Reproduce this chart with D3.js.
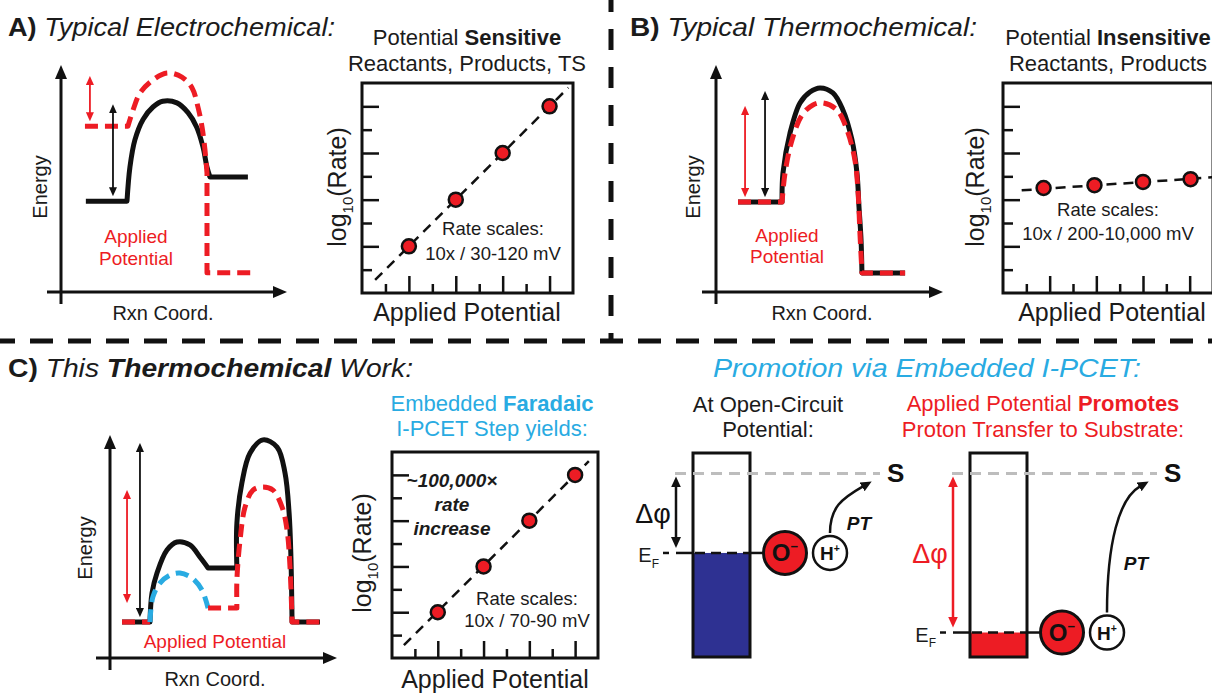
<!DOCTYPE html>
<html>
<head>
<meta charset="utf-8">
<script src="https://cdn.jsdelivr.net/npm/d3@7"></script>
<style>
  body { margin: 0; background: #fff; }
  svg { display: block; font-family: "Liberation Sans", Arial, sans-serif; }
</style>
</head>
<body>
<div id="fig"></div>
<script>
// colours
const INK = "#111", TXT = "#1b1b1b", RED = "#ED1C24", CYAN = "#29ABE2", NAVY = "#2E3192", GREY = "#BDBDBD";

// ---- rate plots: [applied potential, log10(rate)] in tick units ----
const rateTicks = [1, 2, 3, 4];
const rateMinorTicks = [0.5, 1.5, 2.5, 3.5];
const ratePointsA = [[1, 1], [2, 2], [3, 3], [4, 4]];
const rateFitA = [[0.28, 0.28], [4.4, 4.4]];
const ratePointsB = [[0.87, 2.25], [1.96, 2.31], [3.0, 2.38], [4.02, 2.44]];
const rateFitB = [[0.4, 2.2], [4.5, 2.48]];
const ratePointsC = [[1, 1], [2, 2], [3, 3], [4, 4]];
const rateFitC = [[0.26, 0.28], [4.3, 4.3]];

// ---- energy profiles [rxn coord, energy], 0..100 on each axis ----
// each piece: 2 points = straight segment, more = smooth barrier
const energyBlackA = [
  [[11, 40], [29.2, 40]],
  [[29.2, 40], [30.5, 55], [32.7, 67], [36.3, 76], [40.7, 81.5], [45, 84], [51.3, 83.3], [56.2, 79], [60, 72.7], [62.8, 64], [64.6, 55], [65.9, 50.7]],
  [[65.9, 50.7], [82.7, 50.7]]
];
const energyRedA = [
  [[10.6, 73], [29.6, 73]],
  [[29.6, 73], [31.9, 80.2], [35, 87.7], [40.7, 93.4], [46.9, 96.5], [53.5, 94.7], [58, 89.9], [60.6, 81.5], [62.4, 72.7], [63.7, 62.6], [64.6, 52.4]],
  [[64.6, 52.4], [64.6, 8.5]],
  [[64.6, 8.5], [85, 8.5]]
];
const energyBlackB = [
  [[9.7, 39.6], [29.1, 39.6]],
  [[29.1, 39.6], [29.5, 52.4], [32.6, 70], [37, 83.3], [41.4, 88.1], [45.8, 89.9], [51.5, 87.7], [55.9, 80.2], [59.9, 67], [62.1, 52.4], [63, 37.4], [63.9, 22.9], [64.3, 8.4]],
  [[64.3, 8.4], [83.3, 8.4]]
];
const energyRedB = [
  [[9.7, 39.6], [29.1, 39.6]],
  [[29.1, 39.6], [30.4, 52.4], [33.5, 67], [37.9, 78], [42.7, 82.4], [47.1, 83.3], [53.3, 80.2], [57.7, 71.4], [61.2, 58.1], [62.6, 43.6], [63.4, 26], [64.3, 8.4]],
  [[64.3, 8.4], [83.3, 8.4]]
];
const energyBlackC = [
  [[5.3, 16.1], [17.6, 16.1]],
  [[17.6, 16.1], [18.5, 29.1], [20.7, 38.1], [25.1, 48.4], [29.5, 52], [35.2, 50.7], [39.6, 45.3], [43.2, 40.4]],
  [[43.2, 40.4], [55.9, 40.4]],
  [[55.9, 40.4], [55.9, 60.5], [58.1, 78.5], [61.7, 91.9], [67.4, 97.8], [73.6, 94.6], [77.1, 83], [78.9, 65], [79.7, 45.3], [80.2, 16.1]],
  [[80.2, 16.1], [92.5, 16.1]]
];
const energyRedStartC = [
  [[5.3, 16.1], [17.6, 16.1]]
];
const energyBlueC = [
  [[17.6, 16.1], [18.9, 27.4], [22, 33.6], [26.4, 37.2], [30.8, 38.1], [36.1, 35.9], [40.5, 30.5], [43.2, 22.4]]
];
const energyRedC = [
  [[43.2, 22.4], [55.9, 22.4]],
  [[55.9, 22.4], [55.9, 35], [57.3, 52.9], [59.5, 67.7], [63, 75.3], [67.4, 76.7], [71.8, 75.3], [75.8, 67.7], [78, 57.4], [79.3, 40.8], [80.2, 16.1]],
  [[80.2, 16.1], [92.5, 16.1]]
];

// ---- band diagrams: levels in box height units (0 bottom .. 100 top) ----
const substrateLevel = 90;
const fermiLevels = [51, 12]; // open circuit, applied potential

const W = 1212, H = 694;
const svg = d3.select("#fig").append("svg").attr("width", W).attr("height", H);
const defs = svg.append("defs");

function marker(id, color, len, wid) {
  defs.append("marker").attr("id", id)
    .attr("viewBox", `0 0 ${len} ${wid}`)
    .attr("markerUnits", "userSpaceOnUse")
    .attr("markerWidth", len).attr("markerHeight", wid)
    .attr("refX", 1).attr("refY", wid / 2)
    .attr("orient", "auto-start-reverse")
    .append("path").attr("d", `M0,0L${len},${wid / 2}L0,${wid}Z`).attr("fill", color);
}
marker("axisHead", INK, 14, 12);
marker("headK", INK, 9, 8);
marker("headR", RED, 9, 8);
marker("headK2", INK, 11, 10);
marker("headR2", RED, 11, 10);
const headLen = { axisHead: 14, headK: 9, headR: 9, headK2: 11, headR2: 11 };

// line whose arrow tips land on the given points
function arrow(x1, y1, x2, y2, id, color, w, both) {
  const dx = x2 - x1, dy = y2 - y1, L = Math.hypot(dx, dy);
  const ux = dx / L, uy = dy / L, s = headLen[id] - 1;
  svg.append("line")
    .attr("x1", both ? x1 + ux * s : x1).attr("y1", both ? y1 + uy * s : y1)
    .attr("x2", x2 - ux * s).attr("y2", y2 - uy * s)
    .attr("stroke", color).attr("stroke-width", w)
    .attr("marker-end", `url(#${id})`)
    .attr("marker-start", both ? `url(#${id})` : null);
}

// text with mixed bold / italic / sub / sup parts
function label(x, y, parts, o = {}) {
  const size = o.size || 20;
  const t = svg.append("text")
    .attr("font-size", size)
    .attr("text-anchor", o.anchor || "middle")
    .attr("fill", o.fill || TXT);
  if (o.rotate) t.attr("transform", `translate(${x},${y}) rotate(${o.rotate})`);
  else t.attr("x", x).attr("y", y);
  if (o.len) t.attr("textLength", o.len).attr("lengthAdjust", "spacingAndGlyphs");
  let shift = 0;
  (typeof parts === "string" ? [[parts, o.style || ""]] : parts).forEach(([s, f = ""]) => {
    const fl = f.split(" ");
    const sp = t.append("tspan").text(s);
    if (fl.includes("b")) sp.attr("font-weight", "bold");
    if (fl.includes("i")) sp.attr("font-style", "italic");
    let want = 0;
    if (fl.includes("sub")) { sp.attr("font-size", size * 0.6); want = size * 0.28; }
    if (fl.includes("sup")) { sp.attr("font-size", size * 0.55); want = -size * 0.42; }
    if (want !== shift) { sp.attr("dy", want - shift); shift = want; }
  });
  return t;
}

const straight = d3.line();
const smooth = d3.line().curve(d3.curveCatmullRom.alpha(0.5));
function profilePath(pieces, x, y) {
  return pieces.map((piece, i) => {
    const pts = piece.map(d => [x(d[0]), y(d[1])]);
    const s = (pts.length > 2 ? smooth : straight)(pts);
    return i ? "L" + s.slice(1) : s;
  }).join("");
}

const lineStyles = {
  black: { stroke: INK, dash: null },
  red: { stroke: RED, dash: "13,7" },
  blue: { stroke: CYAN, dash: "13,7" }
};

function energyPanel(p, curves, barriers) {
  const x = d3.scaleLinear().domain([0, 100]).range([p.ox, p.ox + p.w]);
  const y = d3.scaleLinear().domain([0, 100]).range([p.oy, p.oy - p.h]);
  arrow(p.ox, p.oy + 12, p.ox, p.oy - p.h, "axisHead", INK, 3);
  arrow(p.ox - 14, p.oy, p.ox + p.w, p.oy, "axisHead", INK, 3);
  curves.forEach(([data, kind]) => {
    const st = lineStyles[kind];
    svg.append("path")
      .attr("d", profilePath(data, x, y))
      .attr("fill", "none")
      .attr("stroke", st.stroke)
      .attr("stroke-width", 5)
      .attr("stroke-linejoin", "round")
      .attr("stroke-dasharray", st.dash);
  });
  // barrier height arrows: from starting level up to the highest point
  barriers.forEach(([data, at, kind]) => {
    const start = data[0][0][1];
    const peak = d3.max(data.flat(), d => d[1]);
    arrow(x(at), y(start) - 5, x(at), y(peak) + 3,
      kind === "red" ? "headR" : "headK", kind === "red" ? RED : INK, 1.8, true);
  });
}

function ratePlot(box, pts, fit) {
  const x = d3.scaleLinear().domain([0, 4.5]).range([box.l, box.r]);
  const y = d3.scaleLinear().domain([0, 4.5]).range([box.b, box.t]);
  const g = svg.append("g");
  g.append("g").attr("transform", `translate(${box.l},0)`)
    .call(d3.axisLeft(y).tickValues(rateTicks).tickSize(-17).tickSizeOuter(0).tickFormat(""));
  g.append("g").attr("transform", `translate(${box.l},0)`)
    .call(d3.axisLeft(y).tickValues(rateMinorTicks).tickSize(-10).tickSizeOuter(0).tickFormat(""));
  g.append("g").attr("transform", `translate(0,${box.b})`)
    .call(d3.axisBottom(x).tickValues(rateTicks).tickSize(-17).tickSizeOuter(0).tickFormat(""));
  g.append("g").attr("transform", `translate(0,${box.b})`)
    .call(d3.axisBottom(x).tickValues(rateMinorTicks).tickSize(-9).tickSizeOuter(0).tickFormat(""));
  g.selectAll(".domain").remove();
  g.selectAll(".tick line").attr("stroke", INK).attr("stroke-width", 2.5);
  g.append("rect")
    .attr("x", box.l).attr("y", box.t)
    .attr("width", box.r - box.l).attr("height", box.b - box.t)
    .attr("fill", "none").attr("stroke", INK).attr("stroke-width", 3);
  g.append("path")
    .attr("d", d3.line().x(d => x(d[0])).y(d => y(d[1]))(fit))
    .attr("fill", "none").attr("stroke", INK)
    .attr("stroke-width", 2.5).attr("stroke-dasharray", "10,7");
  g.selectAll("circle.pt").data(pts).join("circle")
    .attr("class", "pt")
    .attr("cx", d => x(d[0])).attr("cy", d => y(d[1]))
    .attr("r", 7)
    .attr("fill", RED).attr("stroke", INK).attr("stroke-width", 2.5);
}

// ---------------- dividers ----------------
svg.append("line").attr("x1", 611).attr("x2", 611).attr("y1", 0).attr("y2", 342)
  .attr("stroke", INK).attr("stroke-width", 5)
  .attr("stroke-dasharray", "21,17").attr("stroke-dashoffset", 9);
svg.append("line").attr("x1", 0).attr("x2", W).attr("y1", 341).attr("y2", 341)
  .attr("stroke", INK).attr("stroke-width", 5)
  .attr("stroke-dasharray", "23,15").attr("stroke-dashoffset", 8);

// ---------------- panel A ----------------
label(8, 36, [["A) ", "b"], ["Typical Electrochemical:", "i"]], { size: 26, anchor: "start", len: 327 });
energyPanel({ ox: 61, oy: 292, w: 226, h: 227 },
  [[energyBlackA, "black"], [energyRedA, "red"]],
  [[energyRedA, 12.8, "red"], [energyBlackA, 23, "black"]]);
label(47, 187, "Energy", { size: 20, rotate: -90 });
label(163, 320, "Rxn Coord.", { size: 20 });
label(136, 243, "Applied", { size: 19, fill: RED });
label(136, 265, "Potential", { size: 19, fill: RED });

ratePlot({ l: 362, r: 573, t: 83, b: 293 }, ratePointsA, rateFitA);
label(467, 45, [["Potential "], ["Sensitive", "b"]], { size: 22 });
label(467, 71, "Reactants, Products, TS", { size: 22 });
label(346, 187, [["log"], ["10", "sub"], ["(Rate)"]], { size: 25, rotate: -90 });
label(467, 321, "Applied Potential", { size: 25 });
label(493, 235, "Rate scales:", { size: 18.5 });
label(493, 260, "10x / 30-120 mV", { size: 18.5 });

// ---------------- panel B ----------------
label(630, 36, [["B) ", "b"], ["Typical Thermochemical:", "i"]], { size: 26, anchor: "start", len: 347 });
energyPanel({ ox: 716, oy: 292, w: 227, h: 227 },
  [[energyBlackB, "black"], [energyRedB, "red"]],
  [[energyRedB, 12.8, "red"], [energyBlackB, 21.6, "black"]]);
label(700, 187, "Energy", { size: 20, rotate: -90 });
label(822, 320, "Rxn Coord.", { size: 20 });
label(787, 242, "Applied", { size: 19, fill: RED });
label(787, 263, "Potential", { size: 19, fill: RED });

ratePlot({ l: 1003, r: 1213, t: 83, b: 293 }, ratePointsB, rateFitB);
label(1108, 45, [["Potential "], ["Insensitive", "b"]], { size: 22 });
label(1108, 71, "Reactants, Products", { size: 22 });
label(984, 187, [["log"], ["10", "sub"], ["(Rate)"]], { size: 25, rotate: -90 });
label(1112, 321, "Applied Potential", { size: 25 });
label(1108, 216, "Rate scales:", { size: 18.5 });
label(1108, 240, "10x / 200-10,000 mV", { size: 18.5 });

// ---------------- panel C ----------------
label(8, 377, [["C) ", "b"], ["This ", "i"], ["Thermochemical", "b i"], [" Work:", "i"]], { size: 26, anchor: "start", len: 405 });
energyPanel({ ox: 110, oy: 658, w: 227, h: 223 },
  [[energyBlackC, "black"], [energyRedStartC, "red"], [energyBlueC, "blue"], [energyRedC, "red"]],
  [[energyRedC, 7.5, "red"], [energyBlackC, 13.2, "black"]]);
label(92, 548, "Energy", { size: 20, rotate: -90 });
label(215, 686, "Rxn Coord.", { size: 20 });
label(215, 648, "Applied Potential", { size: 19, fill: RED });

ratePlot({ l: 392, r: 598, t: 452, b: 658 }, ratePointsC, rateFitC);
label(492, 411, [["Embedded "], ["Faradaic", "b"]], { size: 22, fill: CYAN });
label(492, 436, "I-PCET Step yields:", { size: 22, fill: CYAN });
label(371, 553, [["log"], ["10", "sub"], ["(Rate)"]], { size: 25, rotate: -90 });
label(495, 688, "Applied Potential", { size: 25 });
label(452, 487, "~100,000\u00d7", { size: 19, style: "b i" });
label(452, 511, "rate", { size: 19, style: "b i" });
label(452, 535, "increase", { size: 19, style: "b i" });
label(527, 605, "Rate scales:", { size: 18.5 });
label(527, 627, "10x / 70-90 mV", { size: 18.5 });

// ---------------- band diagrams ----------------
label(713, 377, "Promotion via Embedded I-PCET:", { size: 26, anchor: "start", fill: CYAN, style: "i", len: 428 });
label(768, 412, "At Open-Circuit", { size: 22 });
label(768, 437, "Potential:", { size: 22 });
label(1043, 411, [["Applied Potential "], ["Promotes", "b"]], { size: 22, fill: RED });
label(1043, 437, "Proton Transfer to Substrate:", { size: 22, fill: RED });

const bandY = d3.scaleLinear().domain([0, 100]).range([657, 453]);
const bandPanels = [
  { bx: 693, fill: NAVY, dphi: INK, head: "headK2" },
  { bx: 970, fill: RED, dphi: RED, head: "headR2" }
];
const boxW = 57;
bandPanels.forEach((b, i) => {
  const ef = bandY(fermiLevels[i]), s = bandY(substrateLevel);
  const top = bandY(100), bot = bandY(0);
  svg.append("rect").attr("x", b.bx).attr("y", ef).attr("width", boxW).attr("height", bot - ef).attr("fill", b.fill);
  svg.append("rect").attr("x", b.bx).attr("y", top).attr("width", boxW).attr("height", bot - top)
    .attr("fill", "none").attr("stroke", INK).attr("stroke-width", 3);
  // substrate level
  svg.append("line").attr("x1", b.bx - 18).attr("x2", b.bx + 187).attr("y1", s).attr("y2", s)
    .attr("stroke", GREY).attr("stroke-width", 3).attr("stroke-dasharray", "11,7");
  label(b.bx + 194, s + 9, "S", { size: 26, anchor: "start", style: "b", fill: INK });
  // potential difference
  arrow(b.bx - 17, s + 3, b.bx - 17, ef - 5, b.head, b.dphi, 2.5, true);
  label(b.bx - 40, (s + ef) / 2 + 10, "\u0394\u03c6", { size: 27, fill: b.dphi });
  // Fermi level
  label(b.bx - 34, ef + 9, [["E"], ["F", "sub"]], { size: 20, anchor: "end" });
  const seg = (x1, x2, dash) => svg.append("line").attr("x1", x1).attr("x2", x2).attr("y1", ef).attr("y2", ef)
    .attr("stroke", INK).attr("stroke-width", 2.5).attr("stroke-dasharray", dash);
  seg(b.bx - 30, b.bx - 24, null);
  seg(b.bx - 17, b.bx, null);
  seg(b.bx + 2, b.bx + boxW, "10,6");
  seg(b.bx + boxW, b.bx + 71, null);
  // O- and H+
  svg.append("circle").attr("cx", b.bx + 92).attr("cy", ef).attr("r", 21.5)
    .attr("fill", RED).attr("stroke", INK).attr("stroke-width", 3);
  label(b.bx + 92, ef + 8.5, [["O", "b"], ["\u2212", "b sup"]], { size: 24, fill: INK });
  svg.append("circle").attr("cx", b.bx + 137).attr("cy", ef).attr("r", 17)
    .attr("fill", "#fff").attr("stroke", INK).attr("stroke-width", 2.5);
  label(b.bx + 137, ef + 7, [["H", "b"], ["+", "b sup"]], { size: 19, fill: INK });
  // proton transfer arrow
  const x0 = b.bx + 137, y0 = ef - 20, x1 = b.bx + 170, y1 = s + 13;
  svg.append("path")
    .attr("d", `M${x0},${y0}C${x0},${y0 - 0.55 * (y0 - y1)} ${x0 + 12},${y1 + 12} ${x1},${y1}`)
    .attr("fill", "none").attr("stroke", INK).attr("stroke-width", 2.5)
    .attr("marker-end", "url(#headK2)");
  label(b.bx + 166, (s + ef) / 2 + 17, "PT", { size: 19, style: "b i", fill: INK });
});
</script>
</body>
</html>
